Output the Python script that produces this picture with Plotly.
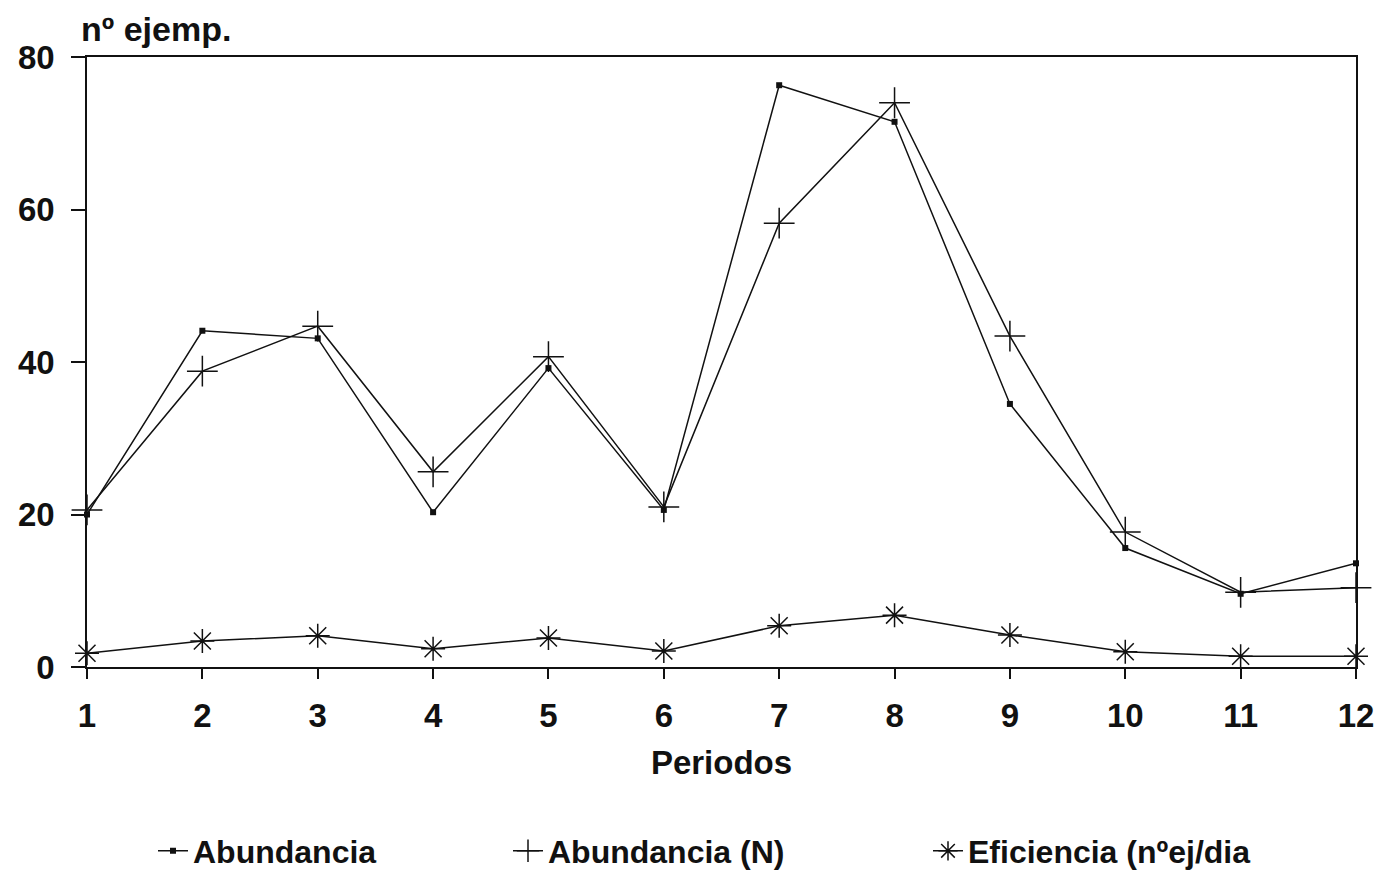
import plotly.graph_objects as go

periodos = [1, 2, 3, 4, 5, 6, 7, 8, 9, 10, 11, 12]
abundancia = [20.0, 44.1, 43.1, 20.3, 39.2, 20.6, 76.3, 71.5, 34.5, 15.6, 9.6, 13.6]
abundancia_n = [20.6, 38.8, 44.7, 25.6, 40.7, 21.0, 58.2, 74.0, 43.4, 17.7, 9.8, 10.4]
eficiencia = [1.8, 3.4, 4.1, 2.4, 3.8, 2.1, 5.4, 6.8, 4.2, 2.0, 1.4, 1.4]
y_ticks = [0, 20, 40, 60, 80]

FONT = "Liberation Sans"
BLACK = "#111111"

fig = go.Figure()
fig.add_trace(go.Scatter(
    x=periodos, y=abundancia, name="Abundancia", mode="lines+markers",
    line=dict(color=BLACK, width=1.5),
    marker=dict(symbol="square", size=6, color=BLACK),
    cliponaxis=False, legend="legend", showlegend=True))
fig.add_trace(go.Scatter(
    x=periodos, y=abundancia_n, name="Abundancia (N)", mode="lines+markers",
    line=dict(color=BLACK, width=1.5),
    marker=dict(symbol="cross-thin", size=22, color=BLACK, line=dict(color=BLACK, width=1.5)),
    cliponaxis=False, legend="legend2", showlegend=True))
fig.add_trace(go.Scatter(
    x=periodos, y=eficiencia, name="Eficiencia (nºej/dia", mode="lines+markers",
    line=dict(color=BLACK, width=1.5),
    marker=dict(symbol="asterisk", size=20, color=BLACK, line=dict(color=BLACK, width=1.5)),
    cliponaxis=False, legend="legend3", showlegend=True))

legend_common = dict(orientation="h", yref="container", y=1 - 851 / 875, yanchor="middle",
                     xref="container", xanchor="left",
                     bgcolor="rgba(0,0,0,0)",
                     font=dict(family=FONT, size=32, color=BLACK, weight="bold"))
fig.update_layout(
    width=1394, height=875,
    margin=dict(l=87, r=38, t=57, b=208),
    showlegend=True,
    paper_bgcolor="white", plot_bgcolor="white",
    font=dict(family=FONT, color=BLACK),
    legend=dict(x=153 / 1394, **legend_common),
    legend2=dict(x=508 / 1394, **legend_common),
    legend3=dict(x=928 / 1394, **legend_common),
    xaxis=dict(range=[1, 12], tickvals=periodos, showgrid=False, zeroline=False,
               automargin=False,
               showline=True, mirror=True, linecolor=BLACK, linewidth=1.5,
               ticks="outside", ticklen=10, tickwidth=1.5, tickcolor=BLACK,
               ticklabelstandoff=9,
               tickfont=dict(family=FONT, size=33, color=BLACK, weight="bold"),
               title=dict(text="Periodos", font=dict(family=FONT, size=33, color=BLACK, weight="bold"),
                          standoff=18)),
    yaxis=dict(range=[0, 80], tickvals=y_ticks, showgrid=False, zeroline=False,
               automargin=False,
               showline=True, mirror=True, linecolor=BLACK, linewidth=1.5,
               ticks="outside", ticklen=14, tickwidth=1.5, tickcolor=BLACK,
               ticklabelstandoff=10,
               tickfont=dict(family=FONT, size=33, color=BLACK, weight="bold")),
    annotations=[dict(text="nº ejemp.", xref="paper", yref="paper", x=-0.006, y=1.0,
                      xanchor="left", yanchor="bottom", yshift=7, showarrow=False,
                      font=dict(family=FONT, size=34, color=BLACK, weight="bold"))],
)

fig.write_html("out.html")
